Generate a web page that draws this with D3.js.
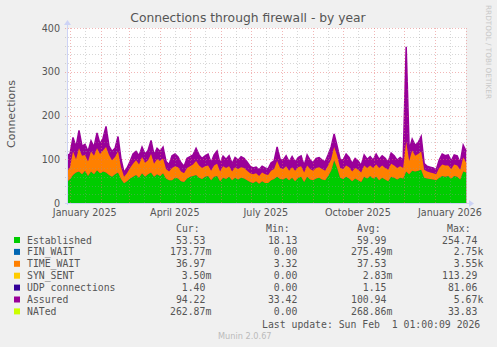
<!DOCTYPE html>
<html>
<head>
<meta charset="utf-8">
<script src="https://cdn.jsdelivr.net/npm/d3@7/dist/d3.min.js"></script>
<style>
  body { margin: 0; background: #f0f0f0; }
  svg { display: block; }
  .mono { font-family: "DejaVu Sans Mono", monospace; white-space: pre; }
</style>
</head>
<body>
<svg id="chart" width="497" height="347"></svg>
<script>
// samples every 3 days, first one on 2024-12-29
const firstSample = "2024-12-29T06:00:00Z"
const stepDays = 3

const established = [
  48, 55, 64, 70, 72, 66, 74, 62, 72, 66, 75, 68, 72, 70, 64, 60, 66, 70, 55, 45,
  50, 56, 60, 64, 58, 68, 60, 66, 70, 60, 66, 62, 68, 56, 52,
  52, 58, 56, 50, 48, 56, 60, 62, 64, 58, 55, 60, 62, 52, 60, 62, 50, 58, 55, 60,
  52, 58, 54, 58, 56, 52, 48, 46, 50, 44, 50, 46,
  46, 52, 55, 60, 55, 54, 58, 52, 58, 50, 58, 60, 48, 60, 54, 52, 56, 58, 54, 52,
  62, 74, 98, 80, 58, 55, 60, 56, 50, 56, 52, 48, 60, 56,
  62, 56, 60, 52, 58, 54, 50, 60, 58, 54, 58, 56, 72, 66, 74, 72, 74, 76, 58, 56,
  55, 54, 52, 58, 62, 60, 62, 56, 62, 60, 54, 72, 70
]

const timeWait = [
  24, 27, 54, 30, 53, 42, 36, 33, 46, 42, 50, 44, 48, 58, 46, 38, 39, 48, 27, 15,
  18, 24, 30, 34, 30, 37, 32, 32, 42, 30, 34, 34, 34, 22, 20,
  28, 26, 26, 22, 20, 24, 24, 26, 32, 28, 25, 24, 24, 22, 26, 28, 22, 26, 25, 24,
  20, 24, 24, 24, 24, 22, 20, 20, 18, 18, 20, 20,
  18, 22, 23, 36, 25, 24, 26, 22, 24, 24, 24, 24, 22, 26, 24, 22, 24, 24, 24, 22,
  24, 26, 30, 28, 22, 23, 26, 26, 22, 24, 24, 22, 26, 24,
  24, 24, 28, 28, 28, 26, 26, 30, 28, 26, 26, 24, 68, 30, 46, 36, 38, 42, 18, 16,
  15, 14, 14, 22, 26, 26, 24, 22, 26, 26, 22, 32, 22
]

const assured = [
  108, 112, 150, 128, 166, 130, 134, 118, 142, 128, 160, 135, 148, 175, 130, 118, 125, 152, 100, 70,
  80, 95, 112, 118, 108, 128, 112, 120, 143, 110, 125, 118, 128, 95, 88,
  108, 112, 105, 92, 84, 102, 106, 110, 125, 110, 102, 108, 112, 92, 110, 119, 90, 107, 100, 108,
  90, 104, 98, 106, 102, 94, 84, 80, 82, 76, 84, 80,
  78, 92, 96, 128, 100, 98, 108, 94, 106, 94, 104, 108, 86, 110, 98, 92, 102, 104, 98, 94,
  110, 128, 158, 130, 100, 98, 112, 104, 90, 102, 96, 86, 110, 100,
  106, 98, 112, 100, 108, 102, 94, 114, 108, 98, 104, 98, 357, 122, 146, 132, 138, 152, 90, 84,
  82, 80, 76, 98, 112, 108, 110, 96, 110, 108, 92, 132, 118
]

const yTicks = [0, 100, 200, 300, 400]
const xLabels = [
  { month: "2025-01-01", text: "January 2025" },
  { month: "2025-04-01", text: "April 2025" },
  { month: "2025-07-01", text: "July 2025" },
  { month: "2025-10-01", text: "October 2025" },
  { month: "2026-01-01", text: "January 2026" }
]

const legendNames = ["Established", "FIN_WAIT", "TIME_WAIT", "SYN_SENT", "UDP connections", "Assured", "NATed"]
const legendColors = ["#00cc00", "#0066b3", "#ff8000", "#ffcc00", "#330099", "#990099", "#ccff00"]
const curVals = [" 53.53 ", "173.77m", " 36.97 ", "  3.50m", "  1.40 ", " 94.22 ", "262.87m"]
const minVals = [" 18.13 ", "  0.00 ", "  3.32 ", "  0.00 ", "  0.00 ", " 33.42 ", "  0.00 "]
const avgVals = [" 59.99 ", "275.49m", " 37.53 ", "  2.83m", "  1.15 ", "100.94 ", "268.86m"]
const maxVals = ["254.74 ", "  2.75k", "  3.55k", "113.29 ", " 81.06 ", "  5.67k", " 33.83 "]

const svg = d3.select("#chart")
const margin = { top: 28, right: 31, bottom: 144, left: 67 }
const width = 497, height = 347
const x0 = margin.left, x1 = width - margin.right
const y0 = height - margin.bottom, y1 = margin.top

const t0 = new Date(firstSample)
const data = established.map((e, i) => ({
  date: d3.utcDay.offset(t0, i * stepDays),
  est: e,
  tw: timeWait[i],
  asr: assured[i]
}))

const x = d3.scaleUtc()
  .domain([t0, new Date("2026-02-01T01:00:00Z")])
  .range([x0, x1])
const y = d3.scaleLinear().domain([0, 400]).range([y0, y1])

// canvas
svg.append("rect")
  .attr("x", x0).attr("y", y1)
  .attr("width", x1 - x0).attr("height", y0 - y1)
  .attr("fill", "#ffffff")

// areas
svg.append("path")
  .datum(data)
  .attr("fill", "#990099")
  .attr("d", d3.area().x(d => x(d.date)).y0(y(0)).y1(d => y(d.asr)))
svg.append("path")
  .datum(data)
  .attr("fill", "none")
  .attr("stroke", "#990099")
  .attr("stroke-width", 1.5)
  .attr("d", d3.line().x(d => x(d.date)).y(d => y(d.asr)))
svg.append("path")
  .datum(data)
  .attr("fill", "#00cc00")
  .attr("d", d3.area().x(d => x(d.date)).y0(y(0)).y1(d => y(d.est)))
svg.append("path")
  .datum(data)
  .attr("fill", "#ff8000")
  .attr("d", d3.area().x(d => x(d.date)).y0(d => y(d.est)).y1(d => y(d.est + d.tw)))

// grid, drawn over the data like rrdtool does
const minorY = d3.range(0, 401, 20).filter(v => v % 100 !== 0)
const months = d3.utcMonth.range(d3.utcMonth.ceil(x.domain()[0]), x.domain()[1])
const midMonths = d3.utcMonth.range(d3.utcMonth.floor(x.domain()[0]), x.domain()[1])
  .map(m => d3.utcDay.offset(m, 15))
  .filter(d => d > x.domain()[0] && d < x.domain()[1])

const minorCol = "rgba(150,150,150,0.38)"
const majorCol = "rgba(230,110,110,0.5)"
const grid = svg.append("g").attr("shape-rendering", "crispEdges")
grid.selectAll(".hminor").data(minorY).join("line")
  .attr("x1", x0 - 2).attr("x2", x1)
  .attr("y1", d => Math.round(y(d)) + 0.5).attr("y2", d => Math.round(y(d)) + 0.5)
  .attr("stroke", minorCol).attr("stroke-dasharray", "1,2")
grid.selectAll(".vminor").data(midMonths).join("line")
  .attr("x1", d => Math.round(x(d)) + 0.5).attr("x2", d => Math.round(x(d)) + 0.5)
  .attr("y1", y1).attr("y2", y0 + 2)
  .attr("stroke", minorCol).attr("stroke-dasharray", "1,2")
grid.selectAll(".hmajor").data(yTicks).join("line")
  .attr("x1", x0 - 2).attr("x2", x1)
  .attr("y1", d => Math.round(y(d)) + 0.5).attr("y2", d => Math.round(y(d)) + 0.5)
  .attr("stroke", majorCol).attr("stroke-dasharray", "1,2")
grid.selectAll(".vmajor").data(months).join("line")
  .attr("x1", d => Math.round(x(d)) + 0.5).attr("x2", d => Math.round(x(d)) + 0.5)
  .attr("y1", y1).attr("y2", y0 + 2)
  .attr("stroke", majorCol).attr("stroke-dasharray", "1,2")

// axes lines + arrows
const axisCol = "#cdd3f5"
svg.append("line")
  .attr("x1", x0 - 2).attr("x2", x1 + 4)
  .attr("y1", y0 + 0.5).attr("y2", y0 + 0.5)
  .attr("stroke", axisCol)
svg.append("line")
  .attr("x1", x0 + 0.5).attr("x2", x0 + 0.5)
  .attr("y1", y0 + 2).attr("y2", y1 - 4)
  .attr("stroke", axisCol)
svg.append("path")
  .attr("d", `M${x1 + 3},${y0 - 3}L${x1 + 8},${y0 + 0.5}L${x1 + 3},${y0 + 4}Z`)
  .attr("fill", axisCol)
svg.append("path")
  .attr("d", `M${x0 - 3},${y1 - 3}L${x0 + 0.5},${y1 - 8}L${x0 + 4},${y1 - 3}Z`)
  .attr("fill", axisCol)

// y tick labels
svg.append("g")
  .attr("font-family", "DejaVu Sans")
  .attr("font-size", 9.6)
  .attr("fill", "#555")
  .attr("text-anchor", "end")
  .selectAll("text").data(yTicks).join("text")
  .attr("x", x0 - 7)
  .attr("y", d => y(d) + 3.5)
  .text(d => d)

// x labels
svg.append("g")
  .attr("font-family", "DejaVu Sans")
  .attr("font-size", 9.6)
  .attr("fill", "#555")
  .attr("text-anchor", "middle")
  .selectAll("text").data(xLabels).join("text")
  .attr("x", d => x(d3.utcDay.offset(new Date(d.month + "T00:00:00Z"), 15)))
  .attr("y", y0 + 13)
  .text(d => d.text)

// title and y label
svg.append("text")
  .attr("x", 248).attr("y", 22)
  .attr("text-anchor", "middle")
  .attr("font-family", "DejaVu Sans").attr("font-size", 12.3)
  .attr("fill", "#555")
  .text("Connections through firewall - by year")

svg.append("text")
  .attr("transform", "translate(15,114) rotate(-90)")
  .attr("text-anchor", "middle")
  .attr("font-family", "DejaVu Sans").attr("font-size", 11)
  .attr("fill", "#555")
  .text("Connections")

svg.append("text")
  .attr("transform", "translate(486,5) rotate(90)")
  .attr("font-family", "DejaVu Sans").attr("font-size", 7.3)
  .attr("fill", "#c8c8c8")
  .text("RRDTOOL / TOBI OETIKER")

// legend
const legend = svg.append("g").attr("font-size", 9.8).attr("fill", "#555")
const rowY = i => 240 + i * 11.9

legend.append("text").attr("class", "mono").attr("x", 176).attr("y", 231.5).text("Cur:")
legend.append("text").attr("class", "mono").attr("x", 266).attr("y", 231.5).text("Min:")
legend.append("text").attr("class", "mono").attr("x", 357).attr("y", 231.5).text("Avg:")
legend.append("text").attr("class", "mono").attr("x", 447).attr("y", 231.5).text("Max:")

legend.selectAll(".sw").data(legendColors).join("rect")
  .attr("x", 14).attr("y", (d, i) => rowY(i) - 3)
  .attr("width", 6).attr("height", 6)
  .attr("fill", d => d)

legend.selectAll(".nm").data(legendNames).join("text")
  .attr("class", "mono").attr("x", 27).attr("y", (d, i) => rowY(i) + 3.5)
  .text(d => d)

const cols = [[curVals, 170], [minVals, 262], [avgVals, 351], [maxVals, 442]]
cols.forEach(([vals, cx]) => {
  legend.append("g").selectAll("text").data(vals).join("text")
    .attr("class", "mono").attr("x", cx).attr("y", (d, i) => rowY(i) + 3.5)
    .text(d => d)
})

legend.append("text").attr("class", "mono")
  .attr("x", 262).attr("y", 327.8)
  .text("Last update: Sun Feb  1 01:00:09 2026")

svg.append("text")
  .attr("x", 218).attr("y", 339)
  .attr("font-family", "DejaVu Sans").attr("font-size", 8.2)
  .attr("fill", "#bbb")
  .text("Munin 2.0.67")
</script>
</body>
</html>
